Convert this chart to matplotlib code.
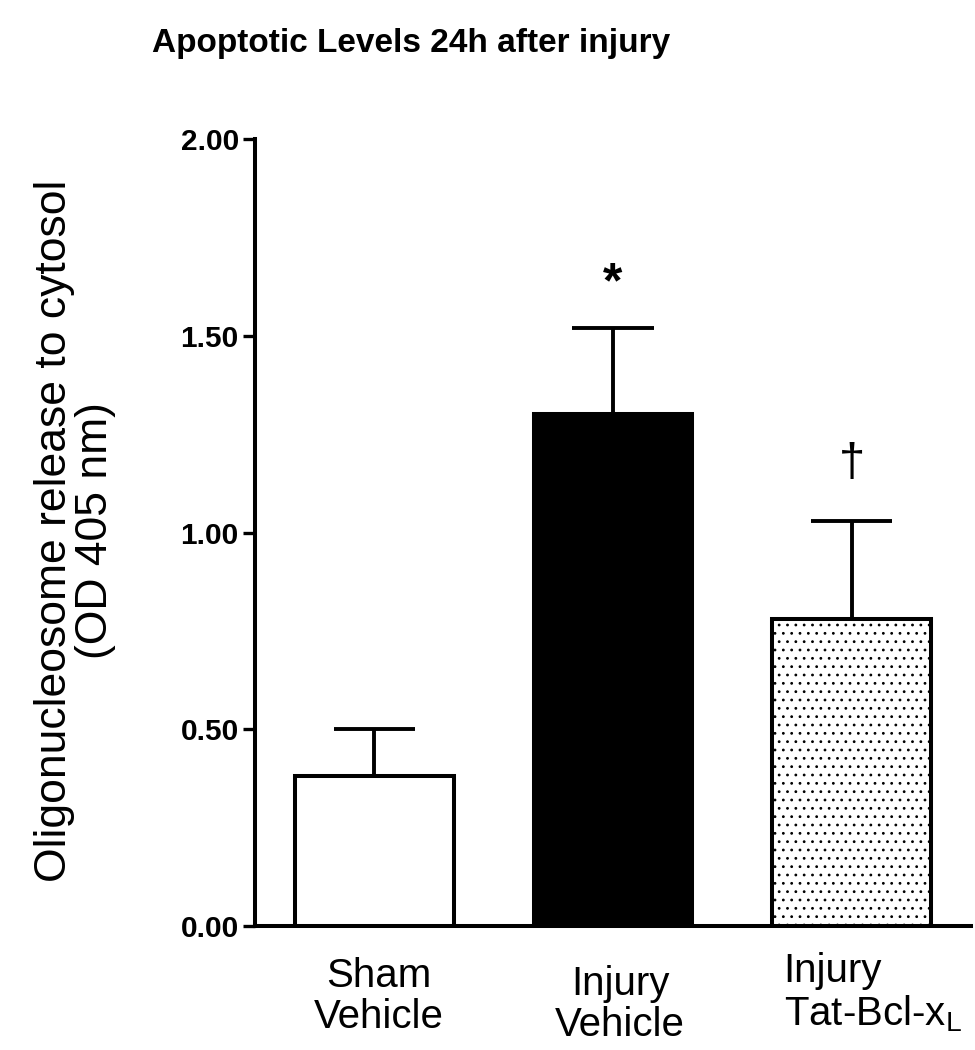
import numpy as np
import matplotlib
matplotlib.use("Agg")
import matplotlib.pyplot as plt
from matplotlib.transforms import blended_transform_factory

# data
groups = ["Sham\nVehicle", "Injury\nVehicle", "Injury\nTat-Bcl-x$_\\mathregular{L}$"]
means = [0.38, 1.30, 0.78]
sems = [0.12, 0.22, 0.25]
marks = ["", "*", "\u2020"]
yticks = [0, 0.5, 1.0, 1.5, 2.0]

plt.rcParams['font.family'] = ['Liberation Sans', 'DejaVu Sans']
plt.rcParams['mathtext.fontset'] = 'custom'
plt.rcParams['mathtext.rm'] = 'Liberation Sans'
plt.rcParams['hatch.linewidth'] = 0.8

fig = plt.figure(figsize=(9.75, 10.5), dpi=100)
ax = fig.add_axes([0.2615, 0.1181, 0.7344, 0.7495])

x = np.arange(len(means))
ax.bar(x, means, width=0.665, color=['white', 'black', 'white'],
       edgecolor='black', linewidth=2.9, zorder=3)
# dotted fill of the last bar
ax.bar(x[2], means[2], width=0.665, color='none', edgecolor='black',
       hatch='..', linewidth=0, zorder=3)

# upper error bars only
tops = np.array(means) + np.array(sems)
ax.vlines(x, means, tops, color='black', linewidth=2.8, zorder=2)
ax.hlines(tops, x - 0.17, x + 0.17, color='black', linewidth=2.8, zorder=2)

ax.annotate(marks[1], (x[1], tops[1]), xytext=(0, 15), textcoords='offset points',
            ha='center', va='bottom', fontsize=36, fontweight='bold')
ax.annotate(marks[2], (x[2], tops[2]), xytext=(0, 25), textcoords='offset points',
            ha='center', va='bottom', fontsize=34)

ax.set_xlim(-0.5, 2.5)
ax.set_ylim(0, 2.0)
ax.set_yticks(yticks)
ax.set_yticklabels(["%.2f" % v for v in yticks], fontsize=21.5, fontweight='bold')
ax.tick_params(axis='y', length=8.6, width=2.4, pad=3)
ax.set_xticks([])
for s in ['top', 'right']:
    ax.spines[s].set_visible(False)
for s in ['left', 'bottom']:
    ax.spines[s].set_linewidth(2.9)

trans = blended_transform_factory(ax.transData, ax.transAxes)
offs = [(0.02, -0.040, 'center'), (1.03, -0.049, 'center'), (1.715, -0.033, 'left')]
for i, (dx, dy, al) in enumerate(offs):
    ax.text(dx, dy, groups[i], transform=trans, ha=al, va='top',
            multialignment=al, fontsize=29, linespacing=1.1)

fig.text(0.4215, 1 - 52 / 1050, "Apoptotic Levels 24h after injury",
         ha='center', va='baseline', fontsize=24, fontweight='bold')
fig.text(75 / 975, 1 - 531 / 1050,
         "Oligonucleosome release to cytosol\n(OD 405 nm)",
         rotation=90, ha='center', va='center', multialignment='center',
         fontsize=32, linespacing=1.0)

fig.savefig("out.png", dpi=100)
